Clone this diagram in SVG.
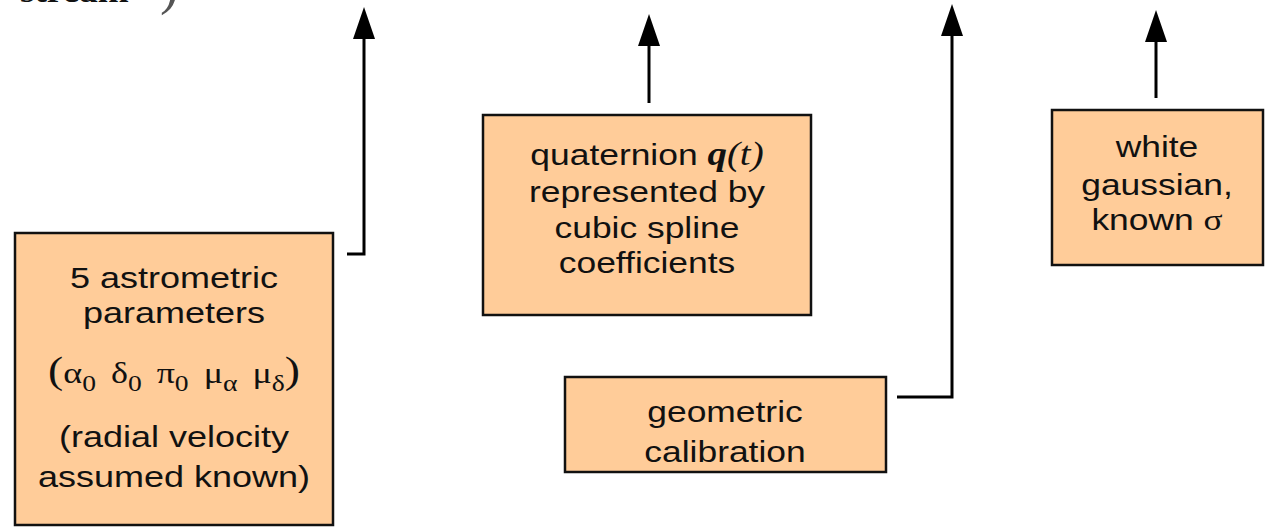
<svg xmlns="http://www.w3.org/2000/svg" width="1268" height="527" viewBox="0 0 1268 527">
  <style>
    .box { fill: #FFCC99; stroke: #111; stroke-width: 2.5; }
    .lbl { font-family: "Liberation Sans", Arial, sans-serif; font-size: 30px; fill: #111; text-anchor: middle; }
    .math { font-family: "Liberation Serif", "Times New Roman", serif; }
    .conn { fill: none; stroke: #000; stroke-width: 3; }
  </style>
  <defs>
    <marker id="arrow" markerUnits="userSpaceOnUse" viewBox="0 0 32 22" refX="22" refY="11" markerWidth="32" markerHeight="22" orient="auto">
      <path d="M0,0 L32,11 L0,22 z" fill="#000"/>
    </marker>
  </defs>
  <rect width="1268" height="527" fill="#fff"/>

  <g id="topcut">
    <text transform="translate(20 2) scale(1.2 1)" font-family="Liberation Serif, serif" font-weight="bold" font-size="31" fill="#111">stream</text>
    <text x="160" y="3" font-family="Liberation Serif, serif" font-size="56" fill="#555">)</text>
  </g>

  <g id="connectors">
    <path class="conn" d="M347,254 H364 V17" marker-end="url(#arrow)"/>
    <path class="conn" d="M649,103 V24" marker-end="url(#arrow)"/>
    <path class="conn" d="M897,397 H952 V14" marker-end="url(#arrow)"/>
    <path class="conn" d="M1156,98 V20" marker-end="url(#arrow)"/>
  </g>

  <g id="node-astrometric">
    <rect class="box" x="15" y="233" width="318" height="292"/>
    <g transform="translate(174 0) scale(1.2 1)">
      <text class="lbl" x="0" y="288">5 astrometric</text>
      <text class="lbl" x="0" y="323">parameters</text>
      <text class="lbl math" x="0" y="383" font-size="34"><tspan font-size="38">(</tspan>α<tspan font-size="23" dy="8">0</tspan><tspan dy="-8" dx="5"> δ</tspan><tspan font-size="23" dy="8">0</tspan><tspan dy="-8" dx="5"> π</tspan><tspan font-size="23" dy="8">0</tspan><tspan dy="-8" dx="5"> μ</tspan><tspan font-size="23" dy="8">α</tspan><tspan dy="-8" dx="5"> μ</tspan><tspan font-size="23" dy="8">δ</tspan><tspan dy="-8" font-size="38">)</tspan></text>
      <text class="lbl" x="0" y="447">(radial velocity</text>
      <text class="lbl" x="0" y="487">assumed known)</text>
    </g>
  </g>

  <g id="node-quaternion">
    <rect class="box" x="483" y="115" width="328" height="200"/>
    <g transform="translate(647 0) scale(1.18 1)">
      <text class="lbl" x="0" y="165">quaternion <tspan class="math" font-style="italic" font-weight="bold" font-size="33">q</tspan><tspan class="math" font-style="italic" font-size="33">(t)</tspan></text>
      <text class="lbl" x="0" y="202">represented by</text>
      <text class="lbl" x="0" y="238">cubic spline</text>
      <text class="lbl" x="0" y="273">coefficients</text>
    </g>
  </g>

  <g id="node-geometric">
    <rect class="box" x="565" y="377" width="321" height="95"/>
    <g transform="translate(725 0) scale(1.18 1)">
      <text class="lbl" x="0" y="422">geometric</text>
      <text class="lbl" x="0" y="462">calibration</text>
    </g>
  </g>

  <g id="node-noise">
    <rect class="box" x="1052" y="110" width="211" height="155"/>
    <g transform="translate(1157 0) scale(1.18 1)">
      <text class="lbl" x="0" y="157">white</text>
      <text class="lbl" x="0" y="195">gaussian,</text>
      <text class="lbl" x="0" y="230">known <tspan class="math">σ</tspan></text>
    </g>
  </g>
</svg>
